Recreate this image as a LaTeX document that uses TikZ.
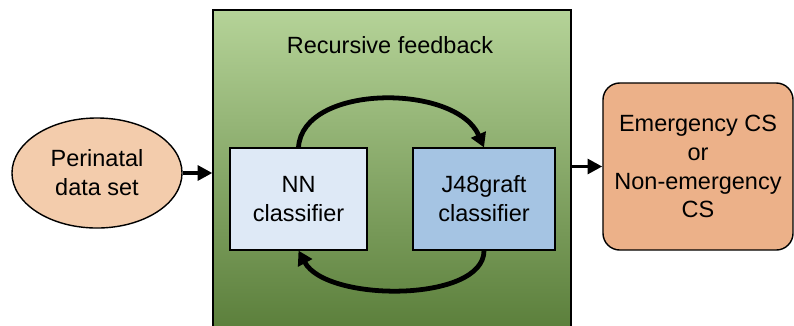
\documentclass[tikz,border=0pt]{standalone}
\usepackage{fontspec}
\setmainfont{Liberation Sans}
\usetikzlibrary{arrows.meta,shapes.geometric}
\definecolor{peach}{RGB}{243,204,172}
\definecolor{outorange}{RGB}{236,177,137}
\definecolor{lightblue}{RGB}{222,233,246}
\definecolor{midblue}{RGB}{165,196,227}
\definecolor{greentop}{RGB}{181,211,152}
\definecolor{greenmid}{RGB}{140,187,97}
\definecolor{greenbot}{RGB}{88,124,56}
\tikzset{
  box/.style={draw=black,line width=0.8pt,align=center,inner sep=0pt},
  flow/.style={line width=2.8pt,-{Triangle[length=10.5pt,width=10.5pt]}},
  loop/.style={line width=3.4pt,-{Triangle[length=10pt,width=11pt]}},
}
\begin{document}
\begin{tikzpicture}[x=0.025cm,y=-0.025cm,font=\fontsize{16.7}{20.5}\selectfont]
      \useasboundingbox (0,0) rectangle (794,325);
      \clip (0,0) rectangle (794,325);
      \node (fb) at (392,175) [box,minimum width=8.95cm,minimum height=8.25cm,
        top color=greentop,middle color=greenmid,bottom color=greenbot] {};
      \node (title) at (390,45) {Recursive feedback};
      \node (data) at (97,173) [box,ellipse,line width=1pt,fill=peach,
        minimum width=4.25cm,minimum height=2.75cm] {Perinatal\\data set};
      \node (nn) at (298.5,199) [box,fill=lightblue,
        minimum width=3.425cm,minimum height=2.55cm] {NN\\classifier};
      \node (j48) at (484,199) [box,fill=midblue,
        minimum width=3.55cm,minimum height=2.55cm] {J48graft\\classifier};
      \node (out) at (698,166.5) [box,rounded corners=12pt,line width=1pt,fill=outorange,
        minimum width=4.75cm,minimum height=4.175cm] {Emergency CS\\or\\Non-emergency\\CS};
      \draw[flow] (data.east) -- (data.east -| fb.west);
      \draw[flow] (fb.east |- out.west) -- (out.west);
      \draw[loop] (nn.north) .. controls ([xshift=0.1cm,yshift=1.6cm]nn.north) and ([xshift=-0.7cm,yshift=1.6cm]j48.north) .. (j48.north);
      \draw[loop] (j48.south) .. controls ([yshift=-1.3cm]j48.south) and ([xshift=0.7cm,yshift=-1.3cm]nn.south) .. (nn.south);
    \end{tikzpicture}
\end{document}
